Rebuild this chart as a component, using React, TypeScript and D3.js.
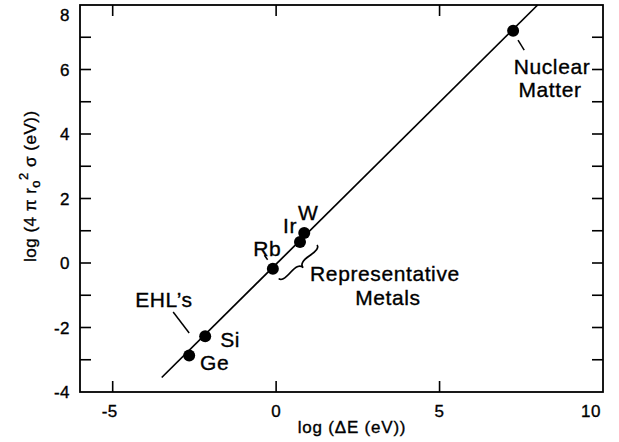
import React from 'react'
import * as d3 from 'd3'

// ---- data ----
const pointNames = ['Nuclear Matter', 'W', 'Ir', 'Rb', 'Si', 'Ge']
const pointX = [7.25, 0.86, 0.73, -0.1, -2.17, -2.66]
const pointY = [7.2, 0.93, 0.65, -0.18, -2.27, -2.87]

// fitted line log(4πr0²σ) vs log(ΔE)
const fitX = [-3.5, 8.0]
const fitY = [-3.55, 8.0]

const xTickLabels = [-5, 0, 5, 10]
const yTickLabels = [-4, -2, 0, 2, 4, 6, 8]
const yMinorTicks = [-3, -2, -1, 0, 1, 2, 3, 4, 5, 6, 7]
const xInnerTicks = [-5, 0, 5]

// annotation text, anchored in data units
const labels = [
  { text: 'Nuclear', x: 8.44, y: 5.86, anchor: 'middle' },
  { text: 'Matter', x: 8.38, y: 5.15, anchor: 'middle' },
  { text: 'Rb', x: -0.7, y: 0.22, anchor: 'start' },
  { text: 'Ir', x: 0.21, y: 0.93, anchor: 'start' },
  { text: 'W', x: 0.67, y: 1.33, anchor: 'start' },
  { text: 'Si', x: -1.71, y: -2.6, anchor: 'start' },
  { text: 'Ge', x: -2.33, y: -3.32, anchor: 'start' },
  { text: 'EHL\u2019s', x: -4.31, y: -1.36, anchor: 'start' },
  { text: 'Representative', x: 1.04, y: -0.56, anchor: 'start' },
  { text: 'Metals', x: 2.42, y: -1.3, anchor: 'start' },
]

// short pointer strokes
const leaders = [
  { x1: 7.4, y1: 6.91, x2: 7.59, y2: 6.6 },
  { x1: -3.15, y1: -1.52, x2: -2.66, y2: -2.17 },
  { x1: -0.36, y1: 0.24, x2: -0.26, y2: 0.1 },
]

// brace under the representative metals
const braceFrom = { x: 0.08, y: -0.48 }
const braceTo = { x: 1.25, y: 0.56 }

const W = 619
const H = 442
const FONT = '"Liberation Sans", Arial, Helvetica, sans-serif'

function curlyBrace(x1: number, y1: number, x2: number, y2: number, w: number, q: number) {
  let dx = x1 - x2
  let dy = y1 - y2
  const len = Math.sqrt(dx * dx + dy * dy)
  dx /= len
  dy /= len
  const qx1 = x1 + q * w * dy
  const qy1 = y1 - q * w * dx
  const qx2 = x1 - 0.25 * len * dx + (1 - q) * w * dy
  const qy2 = y1 - 0.25 * len * dy - (1 - q) * w * dx
  const tx1 = x1 - 0.5 * len * dx + w * dy
  const ty1 = y1 - 0.5 * len * dy - w * dx
  const qx3 = x2 + q * w * dy
  const qy3 = y2 - q * w * dx
  const qx4 = x1 - 0.75 * len * dx + (1 - q) * w * dy
  const qy4 = y1 - 0.75 * len * dy - (1 - q) * w * dx
  return `M${x1},${y1} Q${qx1},${qy1} ${qx2},${qy2} T${tx1},${ty1} M${x2},${y2} Q${qx3},${qy3} ${qx4},${qy4} T${tx1},${ty1}`
}

export default function App() {
  const margin = { top: 5, right: 16, bottom: 50, left: 80 }
  const x = d3.scaleLinear().domain([-6, 10]).range([margin.left, W - margin.right])
  const y = d3.scaleLinear().domain([-4, 8]).range([H - margin.bottom, margin.top])
  const [x0, x1] = x.range()
  const [y0, y1] = y.range()
  const tick = 11
  // a hairline stroke on text to mimic the heavier printed type
  const ink = { stroke: '#000', strokeWidth: 0.35 }

  const line = d3.line<number>().x((_, i) => x(fitX[i])).y((_, i) => y(fitY[i]))

  return (
    <svg width={W} height={H} style={{ position: 'absolute', left: 0, top: 0, background: '#fff' }} fontFamily={FONT}>
      {/* frame */}
      <rect x={x0} y={y1} width={x1 - x0} height={y0 - y1} fill="none" stroke="#000" strokeWidth={1.8} />

      {/* ticks, inward on all sides */}
      {xInnerTicks.map(v => (
        <g key={'xt' + v}>
          <line x1={x(v)} x2={x(v)} y1={y0} y2={y0 - tick} stroke="#000" strokeWidth={1.6} />
          <line x1={x(v)} x2={x(v)} y1={y1} y2={y1 + tick} stroke="#000" strokeWidth={1.6} />
        </g>
      ))}
      {yMinorTicks.map(v => (
        <g key={'yt' + v}>
          <line x1={x0} x2={x0 + tick} y1={y(v)} y2={y(v)} stroke="#000" strokeWidth={1.6} />
          <line x1={x1} x2={x1 - tick} y1={y(v)} y2={y(v)} stroke="#000" strokeWidth={1.6} />
        </g>
      ))}

      {/* tick labels */}
      {xTickLabels.map(v => (
        <text key={'xl' + v} x={Math.min(x(v), x1 - 12) - (v < 0 ? 3 : 0)} y={417} fontSize={17} textAnchor="middle" letterSpacing={0.5} {...ink}>
          {v}
        </text>
      ))}
      {yTickLabels.map(v => (
        <text key={'yl' + v} x={70} y={Math.max(y(v), 15)} dy="0.36em" fontSize={17} textAnchor="end" letterSpacing={0.5} {...ink}>
          {v}
        </text>
      ))}

      {/* axis titles */}
      <text x={352} y={433} fontSize={17} textAnchor="middle" letterSpacing={0.8} {...ink}>
        log (ΔE (eV))
      </text>
      <text transform="translate(36,262) rotate(-90)" fontSize={17} textAnchor="start" letterSpacing={0.5} {...ink}>
        log (4 π r
        <tspan fontSize={13} dy={4}>o</tspan>
        <tspan fontSize={13} dy={-12}>2</tspan>
        <tspan dy={8}> σ (eV))</tspan>
      </text>

      {/* fit line */}
      <path d={line(fitX) || ''} fill="none" stroke="#000" strokeWidth={1.7} />

      {/* points */}
      {pointNames.map((n, i) => (
        <circle key={n} cx={x(pointX[i])} cy={y(pointY[i])} r={6} fill="#000" />
      ))}

      {/* leaders */}
      {leaders.map((l, i) => (
        <line key={'ld' + i} x1={x(l.x1)} y1={y(l.y1)} x2={x(l.x2)} y2={y(l.y2)} stroke="#000" strokeWidth={1.5} />
      ))}

      {/* brace */}
      <path
        d={curlyBrace(x(braceFrom.x), y(braceFrom.y), x(braceTo.x), y(braceTo.y), 8, 0.6)}
        fill="none"
        stroke="#000"
        strokeWidth={1.7}
      />

      {/* annotations */}
      {labels.map(l => (
        <text key={l.text} x={x(l.x)} y={y(l.y)} fontSize={21} textAnchor={l.anchor} letterSpacing={0.6} {...ink}>
          {l.text}
        </text>
      ))}
    </svg>
  )
}
